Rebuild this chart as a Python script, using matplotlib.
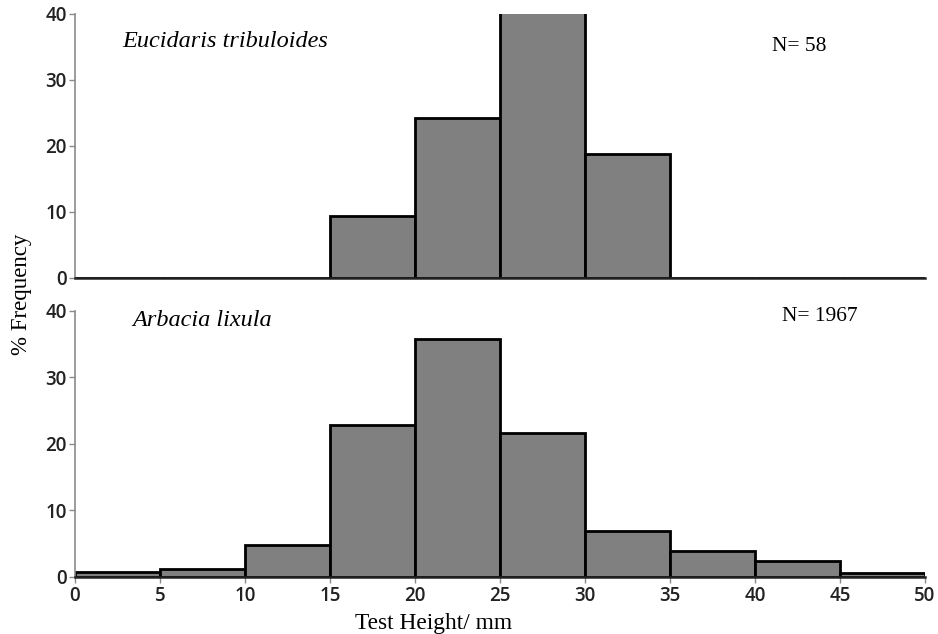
import matplotlib
matplotlib.use("Agg")
import matplotlib.pyplot as plt
from matplotlib.font_manager import FontProperties
import numpy as np

# 5 mm size classes, % frequency per class
bin_edges = np.arange(0, 55, 5)
eucidaris_pct = [0, 0, 0, 9.4, 24.2, 48.3, 18.8, 0, 0, 0]
arbacia_pct = [0.75, 1.1, 4.7, 22.8, 35.8, 21.6, 6.8, 3.9, 2.4, 0.6]

panels = [
    ("Eucidaris tribuloides", "N= 58", eucidaris_pct, (2.8, 35.9), (41.0, 35.0)),
    ("Arbacia lixula", "N= 1967", arbacia_pct, (3.4, 38.6), (41.6, 39.2)),
]

serif = FontProperties(family="Liberation Serif", size=16.8)
serif_it = FontProperties(family="Liberation Serif", style="italic", size=17.5)
serif_n = FontProperties(family="Liberation Serif", size=15.5)
tick_fp = FontProperties(family="Open Sans", weight="semibold", size=13.5)

fig = plt.figure(figsize=(9.38, 6.34), dpi=100)
ax_top = fig.add_axes([75 / 938, 1 - 278 / 634, 850 / 938, 264 / 634])
ax_bot = fig.add_axes([75 / 938, 1 - 576.7 / 634, 850 / 938, 266 / 634])

for ax, (species, n_text, pct, sp_xy, n_xy) in zip([ax_top, ax_bot], panels):
    ax.bar(bin_edges[:-1], pct, width=5, align="edge",
           color="#808080", edgecolor="black", linewidth=2, zorder=2)
    ax.set_xlim(0, 50)
    ax.set_ylim(0, 40)
    ax.set_yticks([0, 10, 20, 30, 40])
    for side in ("top", "right"):
        ax.spines[side].set_visible(False)
    ax.spines["left"].set_color("#8a8a8a")
    ax.spines["left"].set_linewidth(1.2)
    ax.spines["bottom"].set_color("#222222")
    ax.spines["bottom"].set_linewidth(1.8)
    ax.tick_params(axis="y", length=4, width=1, color="#8a8a8a", pad=2)
    for lab in ax.get_yticklabels():
        lab.set_fontproperties(tick_fp)
        lab.set_color("#222222")
    ax.text(*sp_xy, species, fontproperties=serif_it, va="center", ha="left")
    ax.text(*n_xy, n_text, fontproperties=serif_n, va="center", ha="left")

ax_top.set_xticks([])
ax_bot.set_xticks(bin_edges)
ax_bot.tick_params(axis="x", length=4, width=1, color="#8a8a8a", pad=3)
for lab in ax_bot.get_xticklabels():
    lab.set_fontproperties(tick_fp)
    lab.set_color("#222222")
ax_bot.set_xlabel("Test Height/ mm", fontproperties=serif)
ax_bot.xaxis.set_label_coords(0.422, -0.135)

fig.text(22 / 938, 1 - 294 / 634, "% Frequency", fontproperties=FontProperties(
    family="Liberation Serif", size=16.5), rotation=90, va="center", ha="center")

fig.savefig("out.png", dpi=100)
